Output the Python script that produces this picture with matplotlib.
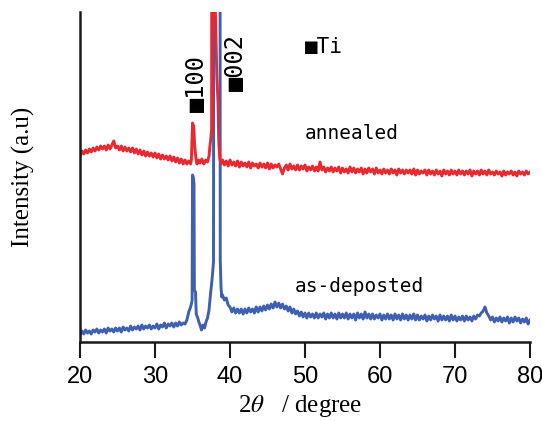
import matplotlib
matplotlib.use("Agg")
import matplotlib.pyplot as plt

plt.rcParams["mathtext.fontset"] = "stix"

step = 0.25  # scan step of the flat parts (degree)

# annealed film (red): 20.00 -> 34.75, peak region, 39.00 -> 80.00
red_low = [
    186, 191, 188, 192, 189, 193, 190, 194, 191, 195,
    192, 196, 193, 196, 192, 197, 193, 197, 201, 194,
    196, 192, 196, 191, 195, 191, 194, 190, 194, 189,
    193, 188, 192, 187, 191, 186, 190, 186, 189, 185,
    189, 184, 188, 183, 187, 183, 186, 182, 186, 181,
    185, 180, 184, 179, 183, 178, 182, 178, 181, 178,
]
red_peak_tt = [34.85, 34.95, 35.0, 35.15, 35.3, 35.45, 35.6, 35.8, 36.0, 36.25,
               36.5, 36.75, 37.0, 37.2, 37.35, 37.45, 37.55, 37.6, 37.9, 38.05,
               38.25, 38.4, 38.5, 38.65, 38.8]
red_peak_int = [182, 205, 219, 216, 195, 184, 178, 182, 179, 183,
                178, 182, 180, 186, 198, 204, 212, 700, 700, 330,
                265, 240, 200, 183, 178]
red_high = [
    182, 177, 181, 176, 182, 177, 180, 176, 181, 175,
    180, 176, 179, 175, 180, 174, 179, 176, 178, 174,
    179, 175, 178, 174, 179, 173, 178, 174, 177, 175,
    178, 173, 168, 174, 177, 172, 178, 173, 176, 172,
    177, 172, 176, 173, 177, 171, 175, 172, 176, 171,
    175, 171, 180, 172, 175, 170, 174, 171, 175, 170,
    174, 171, 175, 169, 174, 170, 173, 169, 175, 170,
    174, 169, 173, 170, 174, 168, 173, 169, 174, 170,
    173, 168, 174, 169, 172, 168, 173, 169, 172, 168,
    173, 169, 172, 167, 173, 169, 172, 168, 172, 169,
    172, 168, 173, 167, 172, 168, 171, 169, 172, 167,
    172, 168, 171, 167, 172, 168, 171, 166, 172, 168,
    171, 167, 172, 168, 171, 167, 172, 168, 171, 167,
    171, 168, 172, 166, 171, 168, 171, 167, 172, 168,
    171, 167, 172, 168, 170, 167, 171, 168, 170, 166,
    171, 167, 170, 168, 171, 167, 170, 166, 171, 168,
    170, 167, 171, 168, 170,
]

# as-deposited film (blue): 20.00 -> 34.25, peak region, 39.00 -> 80.00
blue_low = [
    7, 11, 8, 12, 9, 11, 8, 12, 10, 13,
    9, 12, 10, 13, 9, 14, 11, 13, 10, 14,
    11, 14, 10, 15, 12, 14, 11, 16, 12, 15,
    13, 16, 12, 17, 13, 16, 14, 17, 13, 16,
    14, 18, 13, 17, 15, 19, 14, 18, 16, 19,
    15, 19, 16, 20, 17, 19, 18, 22,
]
blue_peak_tt = [34.5, 34.7, 34.85, 34.95, 35.0, 35.1, 35.2, 35.25, 35.4, 35.5,
                35.7, 35.85, 36.0, 36.2, 36.4, 36.6, 36.8, 37.0, 37.2, 37.4,
                37.6, 37.8, 37.85, 38.65, 38.7, 38.8, 38.9]
blue_peak_int = [30, 34, 38, 42, 167, 165, 158, 52, 50, 28,
                 24, 20, 17, 12, 17, 14, 20, 24, 32, 48,
                 62, 80, 700, 700, 82, 55, 45]
blue_high = [
    47, 42, 44, 37, 35, 30, 34, 29, 33, 29,
    33, 28, 33, 29, 34, 30, 33, 29, 35, 30,
    35, 31, 36, 32, 37, 33, 38, 34, 40, 35,
    39, 34, 38, 33, 36, 31, 35, 29, 33, 28,
    31, 26, 30, 25, 29, 24, 29, 25, 28, 24,
    29, 24, 28, 25, 29, 23, 28, 24, 29, 24,
    28, 23, 29, 24, 28, 24, 29, 23, 28, 24,
    28, 22, 29, 24, 28, 23, 30, 24, 28, 23,
    28, 23, 27, 24, 28, 22, 27, 23, 28, 23,
    27, 22, 28, 23, 27, 22, 28, 23, 27, 22,
    27, 23, 28, 22, 27, 22, 26, 23, 27, 21,
    26, 22, 27, 23, 26, 21, 27, 22, 26, 22,
    26, 21, 27, 22, 26, 21, 25, 22, 26, 21,
    26, 22, 25, 21, 26, 23, 27, 26, 29, 31,
    35, 29, 26, 22, 25, 20, 24, 21, 25, 20,
    24, 21, 25, 19, 24, 20, 25, 21, 24, 19,
    23, 20, 24, 18, 22,
]

x_ticks = [20, 30, 40, 50, 60, 70, 80]

tt_annealed = ([20 + step * i for i in range(len(red_low))] + red_peak_tt
               + [39 + step * i for i in range(len(red_high))])
int_annealed = red_low + red_peak_int + red_high
tt_deposited = ([20 + step * i for i in range(len(blue_low))] + blue_peak_tt
                + [39 + step * i for i in range(len(blue_high))])
int_deposited = blue_low + blue_peak_int + blue_high

red = "#ea2830"
blue = "#3f5fb0"
mono = "DejaVu Sans Mono"

fig = plt.figure(figsize=(5.42, 4.21), dpi=100)
ax = fig.add_axes([80 / 542, 79 / 421, 450 / 542, 330 / 421])

ax.plot(tt_deposited, int_deposited, color=blue, lw=2.1)
ax.plot(tt_annealed, int_annealed, color=red, lw=2.1)

ax.set_xlim(20, 80)
ax.set_ylim(0, 330)
ax.set_xticks(x_ticks)
ax.set_yticks([])

for s in ["top", "right"]:
    ax.spines[s].set_visible(False)
for s in ["left", "bottom"]:
    ax.spines[s].set_linewidth(1.8)
    ax.spines[s].set_color("#1a1a1a")

ax.tick_params(axis="x", direction="out", length=11.5, width=1.5,
               color="#1a1a1a", pad=6, labelsize=17)
for lab in ax.get_xticklabels():
    lab.set_family("Liberation Sans")

ax.set_xlabel(r"2$\mathit{\theta}$   / degree", family="Liberation Serif", fontsize=18)
ax.xaxis.set_label_coords(0.49, -0.155)
ax.set_ylabel("Intensity (a.u)", family="Liberation Serif", fontsize=18)
ax.yaxis.set_label_coords(-0.1, 0.5)

ax.text(50.0, 295, "■Ti", family=mono, fontsize=15, va="center", ha="left")
ax.text(35.6, 259, "■100", family=mono, fontsize=17, rotation=90,
        va="center", ha="center")
ax.text(40.8, 280, "■002", family=mono, fontsize=17, rotation=90,
        va="center", ha="center")
ax.text(49.9, 209, "annealed", family=mono, fontsize=14, va="center", ha="left")
ax.text(48.7, 55, "as-deposted", family=mono, fontsize=14, va="center", ha="left")

fig.savefig("out.png", dpi=100)
